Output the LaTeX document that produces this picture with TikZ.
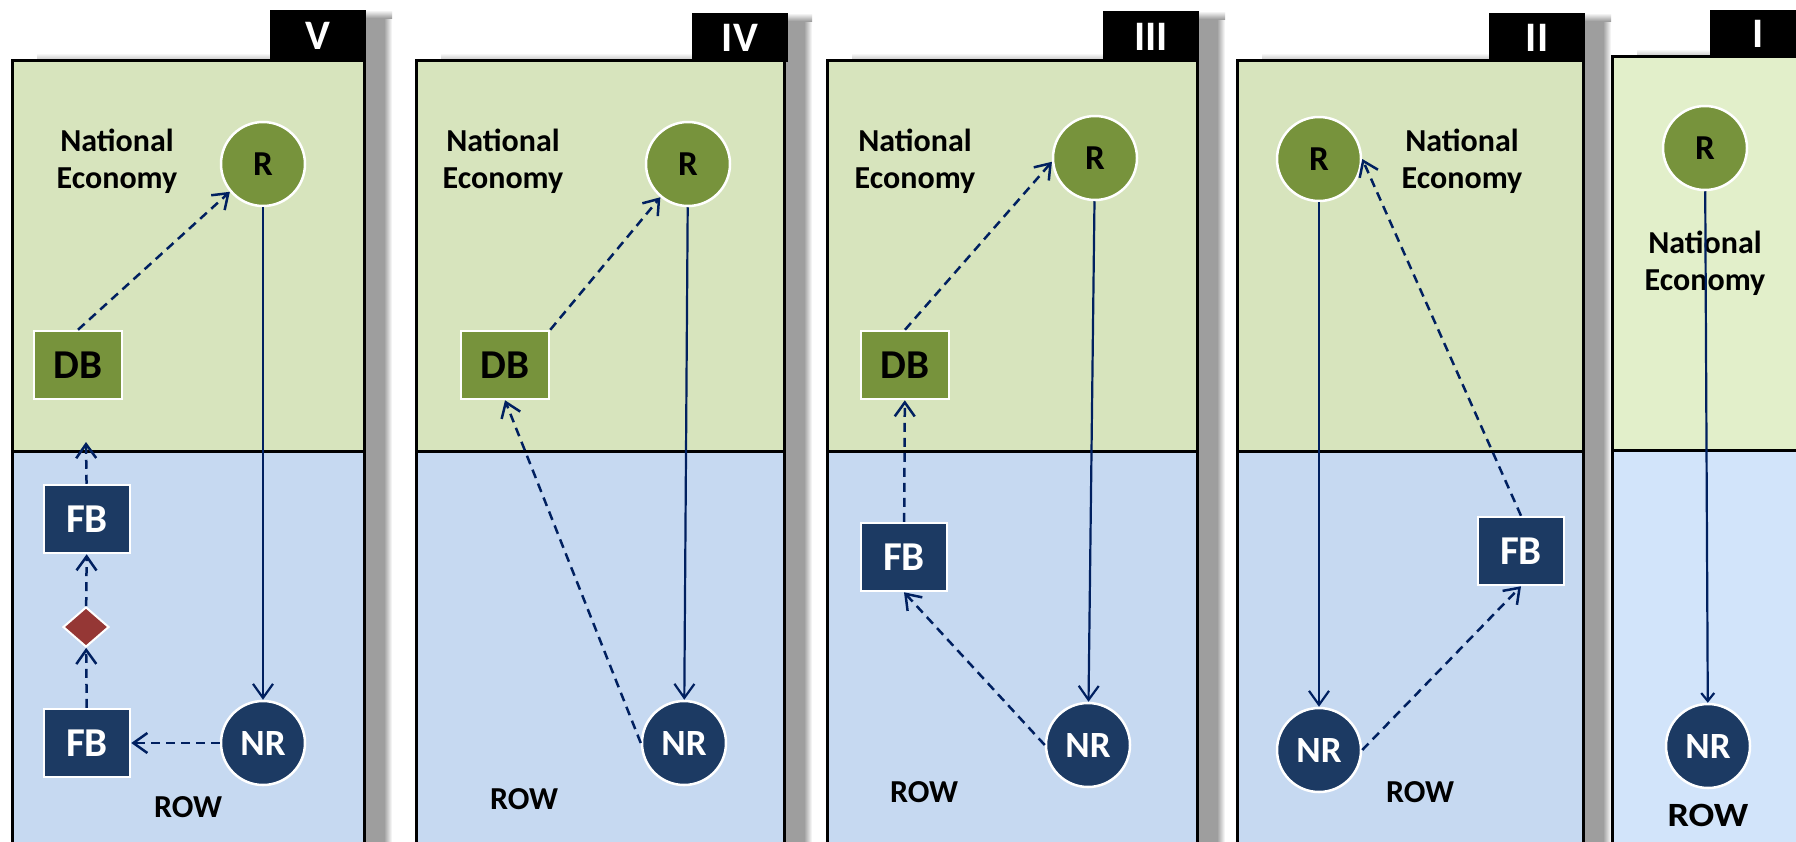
\documentclass[tikz,border=0pt]{standalone}
\usepackage{fontspec}
\usepackage{graphicx}
\setmainfont{Carlito}
\usetikzlibrary{arrows.meta,shapes.geometric}

\definecolor{negreen}{HTML}{D7E4BD}
\definecolor{rowblue}{HTML}{C6D9F1}
\definecolor{negreenL}{HTML}{E2EFCA}
\definecolor{rowblueL}{HTML}{D2E4FA}
\definecolor{olive}{HTML}{77933C}
\definecolor{navy}{HTML}{1C3A63}
\definecolor{brick}{HTML}{953735}
\definecolor{flow}{HTML}{002060}
\definecolor{shadowgray}{HTML}{9E9E9E}

\tikzset{
  res/.style={circle, fill=olive, draw=white, line width=2.5pt, minimum size=84pt,
    inner sep=0pt, font=\fontsize{35}{35}\selectfont\bfseries},
  nonres/.style={circle, fill=navy, draw=white, line width=2.5pt, minimum size=84pt,
    inner sep=0pt, text=white, font=\fontsize{37}{37}\selectfont\bfseries},
  dbox/.style={rectangle, fill=olive, draw=white, line width=2.5pt, minimum width=88pt,
    minimum height=68pt, inner sep=0pt, font=\fontsize{41}{41}\selectfont\bfseries},
  fbbox/.style={rectangle, fill=navy, draw=white, line width=2.5pt, minimum width=86pt,
    minimum height=68pt, inner sep=0pt, text=white, font=\fontsize{41}{41}\selectfont\bfseries},
  lossmark/.style={diamond, fill=brick, draw=white, line width=2pt, minimum width=46pt,
    minimum height=40pt, inner sep=0pt},
  nelabel/.style={align=center, inner sep=0pt, font=\fontsize{32}{37}\selectfont\bfseries},
  rowlabel/.style={inner sep=0pt, font=\fontsize{32}{32}\selectfont\bfseries},
  tablabel/.style={inner sep=0pt, text=white, font=\fontsize{42}{42}\selectfont\bfseries},
  flowline/.style={draw=flow, line width=2.2pt, -{Straight Barb[length=14pt,width=20pt]}},
  dashflow/.style={flowline, line width=2.5pt, dash pattern=on 9pt off 6pt},
}

% #1 left, #2 right, #3 top, #4 green/blue boundary, #5 tab left, #6 tab top,
% #7 stage numeral, #8 upper fill, #9 lower fill
\newcommand\econpanel[9]{%
  \fill[shadowgray] (#2,#6+8) rectangle (#2+20,845);
  \shade[left color=shadowgray, right color=white] (#2+20,#6+8) rectangle (#2+28,845);
  \shade[top color=white, bottom color=shadowgray] (#2,#6) rectangle (#2+28,#6+8);
  \shade[top color=white, bottom color=gray!45] (#1+25,#3-7) rectangle (#5,#3);
  \fill[#8] (#1,#3) rectangle (#2,#4);
  \fill[#9] (#1,#4) rectangle (#2,845);
  \draw[line width=3pt] (#1,845) -- (#1,#3) -- (#2,#3) -- (#2,845);
  \draw[line width=3pt] (#1,#4) -- (#2,#4);
  \fill[black] (#5,#6) rectangle (#5+96,#3+2);
  \node[tablabel] (tab#7) at (#5+48,{(#6+#3)/2+1}) {#7};
}

\begin{document}
\begin{tikzpicture}[x=1pt,y=-1pt]
\useasboundingbox (0,0) rectangle (1796,841);
\clip (0,0) rectangle (1796,841);
\fill[white] (0,0) rectangle (1796,841);

% stage panels
\econpanel{12}{364}{60}{451}{270}{10}{V}{negreen}{rowblue}
\econpanel{416}{784}{60}{451}{692}{13}{IV}{negreen}{rowblue}
\econpanel{827}{1197}{60}{451}{1103}{11}{III}{negreen}{rowblue}
\econpanel{1237}{1583}{60}{451}{1489}{13}{II}{negreen}{rowblue}
\econpanel{1612}{1840}{56}{450}{1710}{10}{I}{negreenL}{rowblueL}

% stage V
\node[nelabel] (NE1) at (117,161) {National\\Economy};
\node[res] (R1) at (263,164) {R};
\node[dbox] (DB1) at (78,365) {DB};
\node[fbbox] (FA1) at (87,519) {FB};
\node[lossmark] (DM1) at (86,627) {};
\node[fbbox] (FC1) at (87,743) {FB};
\node[nonres] (NR1) at (263,743) {NR};
\node[rowlabel] (ROW1) at (188,807) {ROW};
\coordinate (UP1) at (86,442);
\draw[flowline] (R1) -- (NR1);
\draw[dashflow] (DB1.north) -- (R1.220);
\draw[dashflow] (NR1) -- (FC1);
\draw[dashflow] (FC1) -- (DM1);
\draw[dashflow] (DM1) -- (FA1);
\draw[dashflow] (FA1) -- (UP1);

% stage IV
\node[nelabel] (NE2) at (503,161) {National\\Economy};
\node[res] (R2) at (688,164) {R};
\node[dbox] (DB2) at (505,365) {DB};
\node[nonres] (NR2) at (684,743) {NR};
\node[rowlabel] (ROW2) at (524,799) {ROW};
\draw[flowline] (R2) -- (NR2);
\draw[dashflow] (NR2.west) -- (DB2.south);
\draw[dashflow] (DB2.north east) -- (R2);

% stage III
\node[nelabel] (NE3) at (915,161) {National\\Economy};
\node[res] (R3) at (1095,158) {R};
\node[dbox] (DB3) at (905,365) {DB};
\node[fbbox] (FB3) at (904,557) {FB};
\node[nonres] (NR3) at (1088,745) {NR};
\node[rowlabel] (ROW3) at (924,792) {ROW};
\draw[flowline] (R3) -- (NR3);
\draw[dashflow] (DB3.north) -- (R3.185);
\draw[dashflow] (FB3) -- (DB3);
\draw[dashflow] (NR3.west) -- (FB3.south);

% stage II
\node[nelabel] (NE4) at (1462,161) {National\\Economy};
\node[res] (R4) at (1319,159) {R};
\node[fbbox] (FB4) at (1521,551) {FB};
\node[nonres] (NR4) at (1319,750) {NR};
\node[rowlabel] (ROW4) at (1420,792) {ROW};
\draw[flowline] (R4) -- (NR4);
\draw[dashflow] (NR4.east) -- (FB4.south);
\draw[dashflow] (FB4.north) -- (R4.east);

% stage I
\node[res] (R5) at (1705,148) {R};
\node[nelabel] (NE5) at (1705,263) {National\\Economy};
\node[nonres] (NR5) at (1708,746) {NR};
\node[rowlabel, font=\fontsize{34}{34}\selectfont\bfseries] (ROW5) at (1708,815) {\scalebox{1.12}[1]{ROW}};
\draw[flowline, -{Straight Barb[length=8pt,width=13pt]}] (R5) -- (NR5);
\end{tikzpicture}
\end{document}
